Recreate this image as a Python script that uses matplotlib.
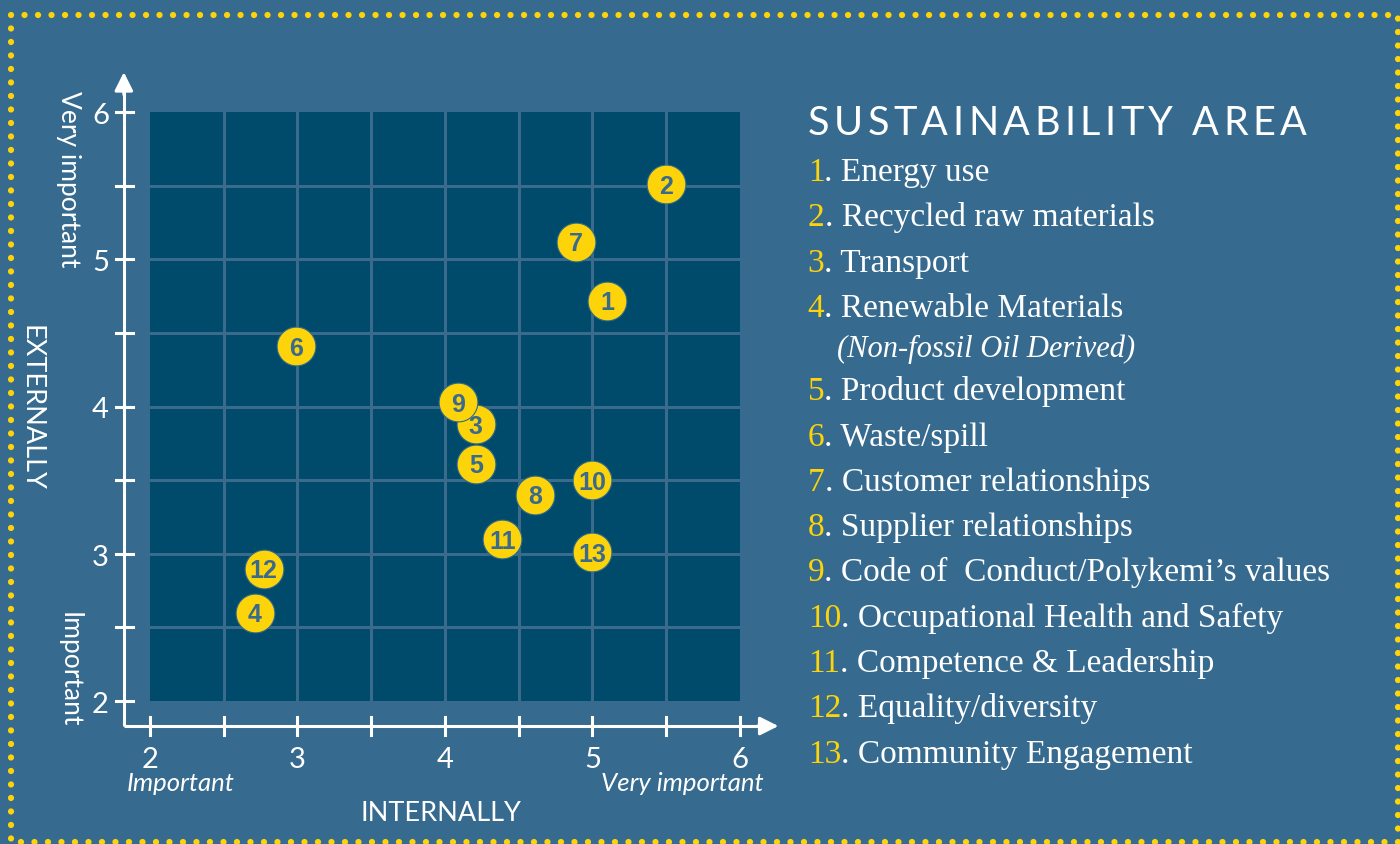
import matplotlib.pyplot as plt
from matplotlib.lines import Line2D
from matplotlib.text import Annotation

# data
area_ids = [1, 2, 3, 4, 5, 6, 7, 8, 9, 10, 11, 12, 13]
internally = [5.10, 5.50, 4.21, 2.71, 4.21, 2.99, 4.89, 4.61, 4.09, 5.00, 4.39, 2.77, 5.00]
externally = [4.72, 5.51, 3.88, 2.60, 3.61, 4.41, 5.12, 3.40, 4.03, 3.50, 3.10, 2.90, 3.01]
area_names = [
    "Energy use",
    "Recycled raw materials",
    "Transport",
    "Renewable Materials",
    "Product development",
    "Waste/spill",
    "Customer relationships",
    "Supplier relationships",
    "Code of  Conduct/Polykemi\u2019s values",
    "Occupational Health and Safety",
    "Competence & Leadership",
    "Equality/diversity",
    "Community Engagement",
]
area_notes = {4: "(Non-fossil Oil Derived)"}
tick_vals = [2, 3, 4, 5, 6]
half_ticks = [2, 2.5, 3, 3.5, 4, 4.5, 5, 5.5, 6]

BG = '#366a8e'
PANEL = '#004a6b'
GRID = '#3a6a8c'
YELLOW = '#fdd40a'
SANS = ['Lato', 'DejaVu Sans']
SERIF = ['Liberation Serif', 'DejaVu Serif']

fig = plt.figure(figsize=(14, 8.45), dpi=100, facecolor=BG)
ax = fig.add_axes([0.1071, 0.1692, 0.4214, 0.6970])
ax.set_facecolor(PANEL)
ax.set_xlim(2, 6)
ax.set_ylim(2, 6)
for s in ax.spines.values():
    s.set_visible(False)
ax.set_xticks([])
ax.set_yticks([])
for v in half_ticks[1:-1]:
    ax.axvline(v, color=GRID, lw=2.2, zorder=1)
    ax.axhline(v, color=GRID, lw=2.2, zorder=1)

# axis lines with arrows, drawn outside the panel
x0, y0 = 1.823, 1.83
ax.plot([x0, x0], [y0, 6.2], color='white', lw=2.2, clip_on=False, solid_capstyle='butt')
ax.plot([x0, 6.2], [y0, y0], color='white', lw=2.2, clip_on=False, solid_capstyle='butt')
ax.annotate('', xy=(x0, 6.29), xytext=(x0, 6.1), annotation_clip=False,
            arrowprops=dict(arrowstyle='-|>', color='white', lw=2.2, mutation_scale=28))
ax.annotate('', xy=(6.28, y0), xytext=(6.1, y0), annotation_clip=False,
            arrowprops=dict(arrowstyle='-|>', color='white', lw=2.2, mutation_scale=28))
for v in half_ticks:
    ax.plot([1.77, 1.885], [v, v], color='white', lw=2.2, clip_on=False)
    ax.plot([v, v], [1.77, 1.89], color='white', lw=2.2, clip_on=False)
for v in tick_vals:
    ax.text(1.665, v - 0.02, str(v), color='white', fontsize=21, family=SANS,
            ha='center', va='center', clip_on=False)
    ax.text(v, 1.605, str(v), color='white', fontsize=21, family=SANS,
            ha='center', va='center', clip_on=False)

# axis captions
ax.text(1.84, 1.45, 'Important', color='white', fontsize=18.5, style='italic',
        family=SANS, ha='left', va='center')
ax.text(6.16, 1.45, 'Very important', color='white', fontsize=18.5, style='italic',
        family=SANS, ha='right', va='center')
ax.text(3.97, 1.24, 'INTERNALLY', color='white', fontsize=19.5, family=SANS,
        ha='center', va='center')
ax.text(1.45, 6.15, 'Very important', color='white', fontsize=19, family=SANS,
        rotation=-90, ha='center', va='top')
ax.text(1.45, 1.83, 'Important', color='white', fontsize=19, family=SANS,
        rotation=-90, ha='center', va='bottom')
ax.text(1.195, 4.0, 'EXTERNALLY', color='white', fontsize=19.5, family=SANS,
        rotation=-90, ha='center', va='center')

# points
ax.scatter(internally, externally, s=780, color=YELLOW, edgecolor='#2f6a8a',
           linewidth=0.8, zorder=3, clip_on=False)
for i, x, y in zip(area_ids, internally, externally):
    ax.text(x, y - 0.01, str(i), color='#3a6a8c', fontsize=18, fontweight='bold',
            family=['Liberation Sans', 'DejaVu Sans'], ha='center', va='center', zorder=4)

# legend title, letter-spaced one character at a time
title = 'SUSTAINABILITY AREA'
chain = fig.text(0.577, 1 - 135 / 845, title[0], color='white', fontsize=28.5,
                 family=SANS, ha='left', va='baseline')
for ch in title[1:]:
    chain = fig.add_artist(Annotation(ch, xy=(1, 0), xycoords=chain, xytext=(3.2, 0),
                                      textcoords='offset points', color='white',
                                      fontsize=28.5, family=SANS, ha='left', va='bottom',
                                      annotation_clip=False))

# legend list on the right
y_px = 181
for i, name in zip(area_ids, area_names):
    num = fig.text(0.577, 1 - y_px / 845, str(i), color=YELLOW, fontsize=24,
                   family=SERIF, ha='left', va='baseline')
    fig.add_artist(Annotation('. ' + name, xy=(1, 0), xycoords=num, color='white',
                              fontsize=24, family=SERIF, ha='left', va='bottom',
                              annotation_clip=False))
    y_px += 45.3
    if i in area_notes:
        fig.text(0.598, 1 - (y_px - 5) / 845, area_notes[i], color='white',
                 fontsize=22, style='italic', family=SERIF, ha='left', va='baseline')
        y_px += 38

# dotted yellow frame
top, bot, left, right = 1 - 16 / 845, 1 - 843 / 845, 11 / 1400, 1398 / 1400
frame = Line2D([left, right, right, left, left], [top, top, bot, bot, top],
               transform=fig.transFigure, color=YELLOW, lw=4.5,
               linestyle=(0, (0.01, 2.15)), dash_capstyle='round')
fig.add_artist(frame)

fig.savefig('out.png', dpi=100, facecolor=BG)
